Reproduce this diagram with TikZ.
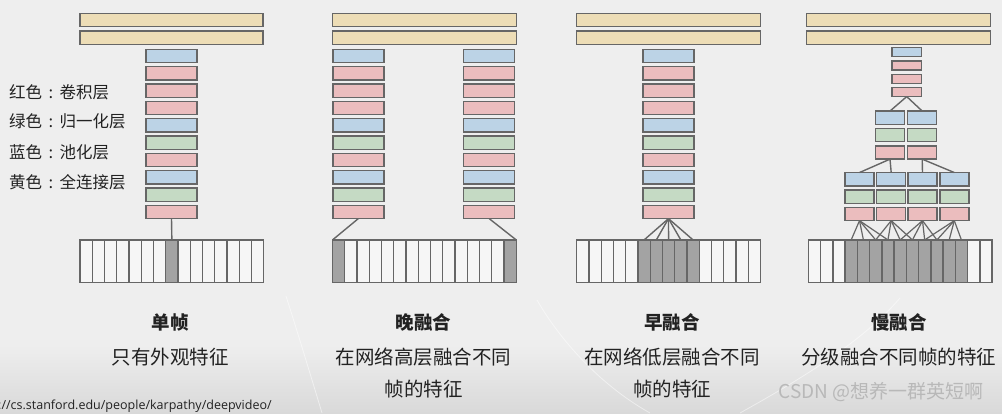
\documentclass[tikz,border=0pt]{standalone}
\usepackage{fontspec}
\setmainfont{Noto Sans CJK SC}
\newfontfamily\urlfont{Open Sans}
\definecolor{bg}{HTML}{EEEEEE}
\definecolor{bgdark}{HTML}{D9D9D9}
\definecolor{edge}{HTML}{666666}
\definecolor{cyel}{HTML}{EDDDB6}
\definecolor{cblue}{HTML}{BCD3E6}
\definecolor{cred}{HTML}{EBBDBE}
\definecolor{cgreen}{HTML}{C5DAC4}
\definecolor{cwhite}{HTML}{F6F6F6}
\definecolor{cgray}{HTML}{A3A3A3}
\definecolor{txt}{HTML}{222222}
\tikzset{
  box/.style={draw=edge, line width=1.4pt, inner sep=0pt, outer sep=0pt},
  layer/.style={box, minimum height=13.3pt},
  fcbar/.style={box, fill=cyel, minimum height=13.3pt, minimum width=184pt},
  cell/.style={box, minimum width=12.25pt, minimum height=42.7pt},
  conn/.style={draw=edge, line width=1.4pt},
  legend/.style={text=txt, font=\fontsize{16.5}{18}\selectfont, inner sep=0pt, anchor=west},
  title/.style={text=txt, font=\fontsize{18.5}{20}\selectfont\bfseries, inner sep=0pt},
  body/.style={text=txt, font=\fontsize{19.5}{21}\selectfont, inner sep=0pt},
}
\newcommand\colsep{\makebox[1.05em][c]{:}}
% stack of 10 layers: name prefix, centre x, width
\newcommand\mkstack[3]{%
  \foreach \c [count=\k from 0] in {cblue,cred,cred,cred,cblue,cgreen,cred,cblue,cgreen,cred}
    \node[layer, fill=\c, minimum width=#3] (#1\k) at (#2,{56+17.33*\k}) {};}
% strip of 15 frames: name prefix, left x, list of gray cells
\newcommand\mkstrip[3]{%
  \foreach \i in {0,...,14}{%
    \def\fillc{cwhite}%
    \foreach \g in {#3}{\ifnum\i=\g\relax\gdef\fillc{cgray}\fi}%
    \node[cell, fill=\fillc] (#1\i) at ({#2+12.25*(\i+0.5)},261.3) {};}}
\begin{document}
\begin{tikzpicture}[x=1pt,y=-1pt]
\fill[bg] (0,0) rectangle (1002,413);
\shade[top color=bg, bottom color=bgdark] (0,345) rectangle (1002,413);
\useasboundingbox (0,0) rectangle (1002,413);
% faint background arcs
\draw[white, line width=0.8pt, opacity=0.5] (286,296) .. controls (300,340) and (312,380) .. (322,413);
\draw[white, line width=0.8pt, opacity=0.5] (537,300) .. controls (560,340) and (600,385) .. (650,413);
\draw[white, line width=0.8pt, opacity=0.5] (900,298) .. controls (860,345) and (790,385) .. (740,413);

% ---------- column 1: single frame ----------
\node[fcbar, minimum width=183pt] (y1a) at (171.5,20) {};
\node[fcbar, minimum width=183pt] (y1b) at (171.5,37.7) {};
\mkstack{a}{171.5}{51pt}
\mkstrip{s}{80}{7}
\draw[conn] (a9.south) -- (s7.north);
\node[legend] (lg1) at (9,92) {红色\colsep 卷积层};
\node[legend] (lg2) at (9,121.5) {绿色\colsep 归一化层};
\node[legend] (lg3) at (9,152) {蓝色\colsep 池化层};
\node[legend] (lg4) at (9,182) {黄色\colsep 全连接层};

% ---------- column 2: late fusion ----------
\node[fcbar] (y2a) at (424.7,20) {};
\node[fcbar] (y2b) at (424.7,37.7) {};
\mkstack{l}{358.3}{51pt}
\mkstack{r}{489.2}{51pt}
\mkstrip{t}{332.5}{0,14}
\draw[conn] (l9.south) -- (t0.north west);
\draw[conn] (r9.south) -- (t14.north east);

% ---------- column 3: early fusion ----------
\node[fcbar] (y3a) at (668.3,20) {};
\node[fcbar] (y3b) at (668.3,37.7) {};
\mkstack{c}{668.5}{51pt}
\mkstrip{u}{576.7}{5,6,7,8,9}
\foreach \j in {5,...,9} \draw[conn] (c9.south) -- (u\j.north);

% ---------- column 4: slow fusion ----------
\node[fcbar] (y4a) at (898.7,20) {};
\node[fcbar] (y4b) at (898.7,37.7) {};
\foreach \c [count=\k from 0] in {cblue,cred,cred,cred}
  \node[box, fill=\c, minimum width=29.3pt, minimum height=9pt] (p\k) at (906.7,{52.2+13.3*\k}) {};
\foreach \x [count=\m from 0] in {890,922.2}
  \foreach \c [count=\k from 0] in {cblue,cgreen,cred}
    \node[layer, fill=\c, minimum width=29pt] (q\m\k) at (\x,{117.7+17.4*\k}) {};
\foreach \x [count=\m from 0] in {859.5,891.2,922.5,954.3}
  \foreach \c [count=\k from 0] in {cblue,cgreen,cred}
    \node[layer, fill=\c, minimum width=29pt] (w\m\k) at (\x,{179.2+17.4*\k}) {};
\mkstrip{v}{808.3}{3,4,5,6,7,8,9,10,11,12}
\draw[conn] (p3.south) -- (q00.north);
\draw[conn] (p3.south) -- (q10.north);
\draw[conn] (q02.south) -- (w00.north);
\draw[conn] (q02.south) -- (w10.north);
\draw[conn] (q12.south) -- (w20.north);
\draw[conn] (q12.south) -- (w30.north);
\foreach \m in {0,...,3}
  \foreach \d in {0,...,3}{
    \pgfmathtruncatemacro\cc{3+2*\m+\d}
    \draw[conn, line width=1.2pt] (w\m2.south) -- (v\cc.north);}

% ---------- captions ----------
\node[title] (t1) at (170,322) {单帧};
\node[body] (b1) at (170,357) {只有外观特征};
\node[title] (t2) at (423.5,322) {晚融合};
\node[body] (b2a) at (423.5,357) {在网络高层融合不同};
\node[body] (b2b) at (423.5,389) {帧的特征};
\node[title] (t3) at (672,322) {早融合};
\node[body] (b3a) at (672,357) {在网络低层融合不同};
\node[body] (b3b) at (672,389) {帧的特征};
\node[title] (t4) at (899,322) {慢融合};
\node[body] (b4) at (898.5,357) {分级融合不同帧的特征};

\node[anchor=west, inner sep=0pt, text=txt, font=\urlfont\fontsize{12.5}{14}\selectfont] (url) at (-2,406) {://cs.stanford.edu/people/karpathy/deepvideo/};
\node[inner sep=0pt, text=black!28, font=\fontsize{19}{21}\selectfont] (wm) at (881,392) {CSDN @想养一群英短啊};
\end{tikzpicture}
\end{document}
